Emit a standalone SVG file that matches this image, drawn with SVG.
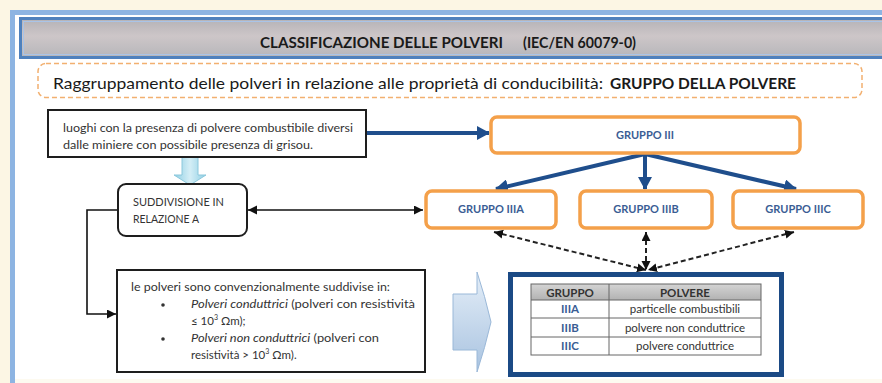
<svg xmlns="http://www.w3.org/2000/svg" width="882" height="383" viewBox="0 0 882 383">
<defs>
<linearGradient id="gray" x1="0" y1="0" x2="0" y2="1">
<stop offset="0" stop-color="#b4b2b6"/>
<stop offset="0.45" stop-color="#cdc6c8"/>
<stop offset="1" stop-color="#b6b6ba"/>
</linearGradient>
<linearGradient id="hdr" x1="0" y1="0" x2="0" y2="1">
<stop offset="0" stop-color="#d4d4d4"/>
<stop offset="1" stop-color="#b2b2b2"/>
</linearGradient>
<linearGradient id="downArr" x1="0" y1="0" x2="1" y2="0">
<stop offset="0" stop-color="#8fcfe4"/>
<stop offset="0.5" stop-color="#d4eef6"/>
<stop offset="1" stop-color="#8fcfe4"/>
</linearGradient>
<linearGradient id="rightArr" x1="0" y1="0" x2="0" y2="1">
<stop offset="0" stop-color="#e4eef8"/>
<stop offset="1" stop-color="#a9c3e0"/>
</linearGradient>
<marker id="ab" markerUnits="userSpaceOnUse" markerWidth="14" markerHeight="14" refX="12" refY="7" orient="auto">
<path d="M0,0 L13,7 L0,14 Z" fill="#1f4e8c"/>
</marker>
<marker id="ak" markerUnits="userSpaceOnUse" markerWidth="10" markerHeight="10" refX="9" refY="4.5" orient="auto-start-reverse">
<path d="M0,0 L9,4.5 L0,9 Z" fill="#111"/>
</marker>
</defs>
<style>
text{font-family:Lato,"Liberation Sans",sans-serif;}
.box{fill:#fff;stroke:#1e1e1e;stroke-width:2;}
.org{fill:#fff;stroke:#f4a04a;stroke-width:3.5;}
.gt{font-size:11px;font-weight:bold;fill:#3a5d94;text-anchor:middle;}
.t11{font-size:11.5px;fill:#333;}
.blue{stroke:#1f4e8c;stroke-width:4;fill:none;marker-end:url(#ab);}
.blk{stroke:#111;stroke-width:1.6;fill:none;}
.dash{stroke:#222;stroke-width:2;stroke-dasharray:5 3;fill:none;marker-start:url(#ak);marker-end:url(#ak);}
.cell{fill:none;stroke:#666;stroke-width:1;}
.tc{font-size:11.5px;fill:#333;text-anchor:middle;}
.tb{font-size:11.5px;font-weight:bold;fill:#3a5d94;text-anchor:middle;}
</style>
<rect x="0" y="0" width="882" height="383" fill="#fcf6e4"/>
<rect x="12.5" y="12.5" width="880" height="380" fill="#fff" stroke="#8db4e2" stroke-width="5"/>
<rect x="15" y="379" width="867" height="4" fill="#fdfaf0"/>
<rect x="20.5" y="18.5" width="870" height="39" fill="url(#gray)" stroke="#4f81bd" stroke-width="3"/>
<rect x="23.5" y="21.5" width="870" height="33" fill="none" stroke="#a9c4e8" stroke-width="1"/>
<text x="260" y="48" font-size="16" font-weight="bold" fill="#1a1a1a" textLength="243" lengthAdjust="spacingAndGlyphs">CLASSIFICAZIONE DELLE POLVERI</text>
<text x="523" y="48" font-size="16" font-weight="bold" fill="#1a1a1a" textLength="113" lengthAdjust="spacingAndGlyphs">(IEC/EN 60079-0)</text>
<rect x="38" y="63.5" width="824" height="34" rx="8" fill="#fff" stroke="#f2b070" stroke-width="1.5" stroke-dasharray="5 3"/>
<text x="53" y="89" font-size="16" fill="#1a1a1a" textLength="550" lengthAdjust="spacingAndGlyphs">Raggruppamento delle polveri in relazione alle proprietà di conducibilità:</text>
<text x="610" y="89" font-size="16" font-weight="bold" fill="#1a1a1a" textLength="186" lengthAdjust="spacingAndGlyphs">GRUPPO DELLA POLVERE</text>
<g id="connectors">
<line class="blue" x1="367" y1="133" x2="489" y2="133"/>
<line class="blue" x1="645" y1="154" x2="496" y2="189"/>
<line class="blue" x1="645" y1="154" x2="645" y2="189"/>
<line class="blue" x1="645" y1="154" x2="796" y2="189"/>
<line class="blk" x1="248" y1="210" x2="423" y2="210" marker-start="url(#ak)" marker-end="url(#ak)"/>
<polyline class="blk" points="118,210 87,210 87,314 116,314" marker-end="url(#ak)"/>
<line class="dash" x1="494" y1="232" x2="646" y2="270"/>
<line class="dash" x1="646" y1="232" x2="646" y2="270"/>
<line class="dash" x1="794" y1="232" x2="648" y2="270"/>
<path d="M182,157 H198 V175 H206 L190,185 L174,175 H182 Z" fill="url(#downArr)" stroke="#8cc8dc" stroke-width="1"/>
<path d="M453,294 H477 V272 Q485,296 491,322 Q485,348 477,372 V350 H453 Z" fill="url(#rightArr)" stroke="#9ab8d8" stroke-width="1"/>
</g>
<g id="luoghi">
<rect class="box" x="48" y="110" width="318" height="47"/>
<text class="t11" x="63" y="132" textLength="290" lengthAdjust="spacingAndGlyphs">luoghi con la presenza di polvere combustibile diversi</text>
<text class="t11" x="63" y="149" textLength="250" lengthAdjust="spacingAndGlyphs">dalle miniere con possibile presenza di grisou.</text>
</g>
<g id="gruppo3">
<rect class="org" x="491" y="117" width="309" height="36" rx="6"/>
<text class="gt" x="645" y="139">GRUPPO III</text>
</g>
<g id="suddivisione">
<rect class="box" x="118" y="184" width="129" height="52" rx="8"/>
<text class="t11" x="133" y="206" textLength="91" lengthAdjust="spacingAndGlyphs">SUDDIVISIONE IN</text>
<text class="t11" x="133" y="223" textLength="66" lengthAdjust="spacingAndGlyphs">RELAZIONE A</text>
</g>
<g id="gruppo3a">
<rect class="org" x="426" y="191" width="130" height="37" rx="6"/>
<text class="gt" x="491" y="213">GRUPPO IIIA</text>
</g>
<g id="gruppo3b">
<rect class="org" x="580" y="191" width="132" height="37" rx="6"/>
<text class="gt" x="646" y="213">GRUPPO IIIB</text>
</g>
<g id="gruppo3c">
<rect class="org" x="733" y="191" width="130" height="37" rx="6"/>
<text class="gt" x="798" y="213">GRUPPO IIIC</text>
</g>
<g id="polveri">
<rect class="box" x="117" y="270" width="308" height="102"/>
<text class="t11" x="131" y="291" textLength="259" lengthAdjust="spacingAndGlyphs">le polveri sono convenzionalmente suddivise in:</text>
<circle cx="163" cy="305" r="1.8" fill="#333"/>
<text class="t11" x="191" y="308" textLength="224" lengthAdjust="spacingAndGlyphs"><tspan font-style="italic">Polveri conduttrici</tspan> (polveri con resistività</text>
<text class="t11" x="191" y="325">≤ 10<tspan font-size="7" dy="-5">3</tspan><tspan dy="5"> Ωm);</tspan></text>
<circle cx="163" cy="339" r="1.8" fill="#333"/>
<text class="t11" x="191" y="342" textLength="188" lengthAdjust="spacingAndGlyphs"><tspan font-style="italic">Polveri non conduttrici</tspan> (polveri con</text>
<text class="t11" x="191" y="359">resistività &gt; 10<tspan font-size="7" dy="-5">3</tspan><tspan dy="5"> Ωm).</tspan></text>
</g>
<g id="tabella">
<rect x="510.5" y="274.5" width="271" height="100" fill="#fff" stroke="#1b4a85" stroke-width="5"/>
<rect x="531" y="284" width="230" height="16" fill="url(#hdr)"/>
<rect class="cell" x="531" y="284" width="230" height="71"/>
<line class="cell" x1="531" y1="300" x2="761" y2="300"/>
<line class="cell" x1="531" y1="318" x2="761" y2="318"/>
<line class="cell" x1="531" y1="337" x2="761" y2="337"/>
<line class="cell" x1="609" y1="284" x2="609" y2="355"/>
<text class="tc" x="570" y="297" font-weight="bold" fill="#222">GRUPPO</text>
<text class="tc" x="685" y="297" font-weight="bold" fill="#222">POLVERE</text>
<text class="tb" x="570" y="313">IIIA</text>
<text class="tc" x="685" y="313">particelle combustibili</text>
<text class="tb" x="570" y="332">IIIB</text>
<text class="tc" x="685" y="332">polvere non conduttrice</text>
<text class="tb" x="570" y="350">IIIC</text>
<text class="tc" x="685" y="350">polvere conduttrice</text>
</g>
</svg>
